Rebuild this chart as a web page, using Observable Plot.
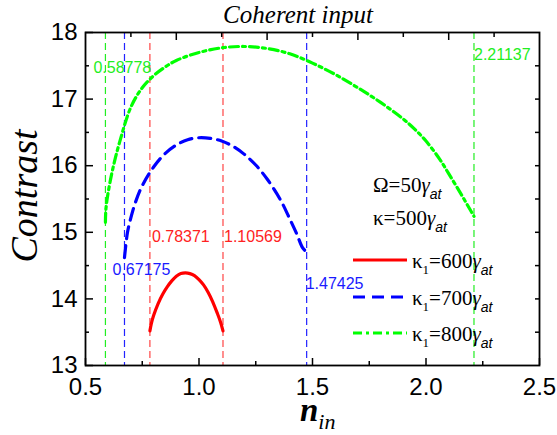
<!DOCTYPE html>
<html><head><meta charset="utf-8">
<script src="https://cdn.jsdelivr.net/npm/d3@7"></script>
<script src="https://cdn.jsdelivr.net/npm/@observablehq/plot@0.6"></script>
<style>body{margin:0;background:#fff}</style>
</head><body><div id="chart"></div>
<script>
// ---- data ----
const red600N = [0.78371,0.79,0.80,0.82,0.84,0.86,0.88,0.90,0.92,0.94,0.96,0.98,1.00,1.02,1.04,1.06,1.08,1.095,1.10569];
const red600C = [13.52,13.63,13.75,13.93,14.07,14.18,14.27,14.34,14.38,14.39,14.38,14.35,14.29,14.21,14.10,13.96,13.79,13.65,13.52];

const blue700N = [0.67175,0.685,0.70,0.72,0.75,0.80,0.85,0.90,0.95,1.00,1.05,1.10,1.15,1.20,1.25,1.30,1.36,1.40,1.43,1.456,1.47425];
const blue700C = [14.62,15.00,15.22,15.45,15.70,15.98,16.18,16.31,16.39,16.42,16.41,16.37,16.29,16.17,16.01,15.80,15.48,15.20,14.98,14.77,14.70];

const green800N = [0.58778,0.59,0.60,0.62,0.65,0.70,0.75,0.80,0.85,0.90,1.00,1.10,1.20,1.30,1.40,1.50,1.60,1.70,1.80,1.90,1.95,2.00,2.06,2.10,2.15,2.196,2.21137];
const green800C = [15.15,15.35,15.60,15.95,16.35,16.88,17.17,17.35,17.48,17.58,17.70,17.77,17.79,17.76,17.68,17.54,17.37,17.17,16.95,16.70,16.55,16.37,16.10,15.88,15.60,15.33,15.24];

const boundaryValues = [0.58778, 2.21137, 0.67175, 1.47425, 0.78371, 1.10569];
const boundarySeries = ["800","800","700","700","600","600"];
const boundaryLabelY = [17.47, 17.67, 14.44, 14.22, 14.93, 14.93];

const xMajorTicks = [0.5,1.0,1.5,2.0,2.5];
const xMinorTicks = [0.75,1.25,1.75,2.25];
const xTopMajorTicks = [0.9,1.3,1.7,2.1];
const xTopMinorTicks = [0.7,1.1,1.5,1.9,2.3];
const yMajorTicks = [13,14,15,16,17,18];
const yMinorTicks = [13.5,14.5,15.5,16.5,17.5];
const yRightTicks = [13.5,14,14.5,15,15.5,16,16.5,17,17.5];

const seriesKeys = ["600","700","800"];
const titleText = "Coherent input";
const yLabelText = "Contrast";

// ---- styles ----
const curveColor = {"600":"#ff0000","700":"#0000ff","800":"#00ff00"};
const ruleColor = {"600":"#ff4444","700":"#2222ff","800":"#22ee22"};
const labelColor = {"600":"#ff2222","700":"#1a1aff","800":"#22ee22"};
const dash = {"600":null,"700":"12,7","800":"9,4,3,4"};

const rows = (N, C, s) => N.map((n, i) => ({n, c: C[i], s}));
const curves = {
  "600": rows(red600N, red600C, "600"),
  "700": rows(blue700N, blue700C, "700"),
  "800": rows(green800N, green800C, "800")
};
const bounds = boundaryValues.map((n, i) => ({n, s: boundarySeries[i], ly: boundaryLabelY[i]}));
const labelDx = [-12, 0, -12, -1, 2, 1];
bounds.forEach((b, i) => b.dx = labelDx[i]);

const font = "'Liberation Sans', Arial, sans-serif";
const serif = "'Liberation Serif', 'Times New Roman', serif";
const noText = () => "";
const tickAxis = (fn, data, anchor, size) =>
  fn(data, {anchor, tickSize: -size, tickFormat: noText, label: null, stroke: "black", strokeWidth: 1.5});

const marks = [
  ...seriesKeys.map(s => Plot.ruleX(bounds.filter(b => b.s === s), {x: "n", stroke: ruleColor[s], strokeWidth: 1.2, strokeDasharray: "7,4"})),
  ...seriesKeys.map(s => Plot.line(curves[s], {x: "n", y: "c", stroke: curveColor[s], strokeWidth: 3.2, strokeDasharray: dash[s], curve: "catmull-rom"})),
  ...bounds.map(b => Plot.text([b], {x: "n", y: "ly", text: d => String(d.n), textAnchor: "start", dx: b.dx, fill: labelColor[b.s], fontSize: 16, fontFamily: font})),
  Plot.axisX(xMajorTicks, {anchor: "bottom", tickSize: 0, tickPadding: 12, fontSize: 24, tickFormat: d3.format(".1f"), label: null, fill: "black"}),
  Plot.axisY(yMajorTicks, {anchor: "left", tickSize: 0, tickPadding: 8, fontSize: 24, tickFormat: d3.format("d"), label: null, fill: "black"}),
  tickAxis(Plot.axisX, xMajorTicks, "bottom", 7),
  tickAxis(Plot.axisX, xMinorTicks, "bottom", 4),
  tickAxis(Plot.axisX, xTopMajorTicks, "top", 7),
  tickAxis(Plot.axisX, xTopMinorTicks, "top", 4),
  tickAxis(Plot.axisY, yMajorTicks, "left", 8),
  tickAxis(Plot.axisY, yMinorTicks, "left", 4),
  tickAxis(Plot.axisY, yRightTicks, "right", 5),
  Plot.frame({stroke: "black", strokeWidth: 1.8})
];

const chart = Plot.plot({
  width: 557, height: 435,
  marginLeft: 85, marginRight: 18, marginTop: 32, marginBottom: 70,
  x: {domain: [0.5, 2.5]},
  y: {domain: [13, 18]},
  style: {background: "white", fontFamily: font, color: "black"},
  marks
});
document.getElementById("chart").appendChild(chart);

const svg = d3.select(chart);

// ---- text annotations and legend ----
svg.append("text").attr("x", 298).attr("y", 23).attr("text-anchor", "middle")
  .attr("font-family", serif).attr("font-style", "italic").attr("font-size", 25).text(titleText);

svg.append("text").attr("transform", "translate(37,196) rotate(-90)").attr("text-anchor", "middle")
  .attr("font-family", serif).attr("font-style", "italic").attr("font-size", 38).text(yLabelText);

const xl = svg.append("text").attr("x", 300).attr("y", 421).attr("text-anchor", "start").attr("font-family", serif);
xl.append("tspan").attr("font-style", "italic").attr("font-weight", "bold").attr("font-size", 33).text("n");
xl.append("tspan").attr("font-style", "italic").attr("font-size", 22).attr("dy", 8).text("in");

function richLabel(x, y, sym, sub, val) {
  const t = svg.append("text").attr("x", x).attr("y", y).attr("text-anchor", "start")
    .attr("font-family", serif).attr("font-size", 21).attr("fill", "black");
  t.append("tspan").text(sym);
  if (sub) t.append("tspan").attr("font-size", 13).attr("dy", 6).text(sub);
  t.append("tspan").attr("dy", sub ? -6 : 0).text("=" + val);
  t.append("tspan").attr("font-style", "italic").text("γ");
  t.append("tspan").attr("font-family", font).attr("font-style", "italic").attr("font-size", 14).attr("dy", 7).text("at");
}
richLabel(373, 192, "Ω", null, "50");
richLabel(373, 225, "κ", null, "500");
const legendVals = {"600": "600", "700": "700", "800": "800"};
const legendY = {"600": 260, "700": 297, "800": 333};
seriesKeys.forEach(s => {
  svg.append("line").attr("x1", 353).attr("x2", 407).attr("y1", legendY[s]).attr("y2", legendY[s])
    .attr("stroke", curveColor[s]).attr("stroke-width", 3.2).attr("stroke-dasharray", dash[s]);
  richLabel(412, legendY[s] + 8, "κ", "1", legendVals[s]);
});
</script>
</body></html>
